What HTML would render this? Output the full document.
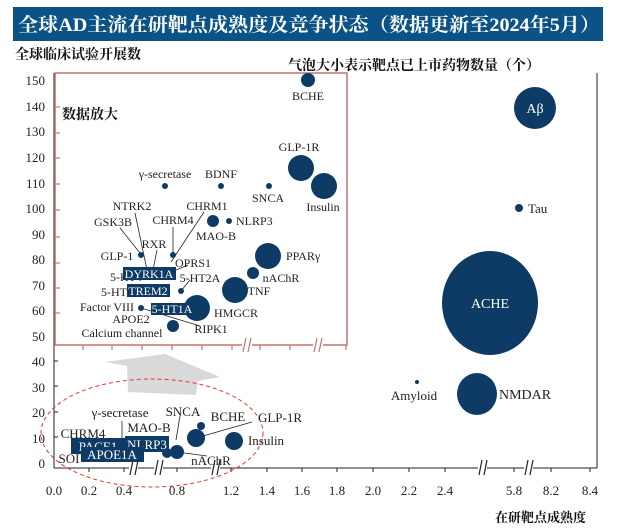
<!DOCTYPE html>
<html><head><meta charset="utf-8"><style>
body{margin:0;background:#fff;width:617px;height:530px;overflow:hidden}
svg{display:block}
text{font-family:"Liberation Serif","Noto Serif CJK SC",serif;fill:#222}
.c{font-family:"Liberation Serif","Noto Serif CJK SC",serif;font-weight:bold;fill:#111}
</style></head><body>
<svg width="617" height="530" viewBox="0 0 617 530" xmlns="http://www.w3.org/2000/svg">
<rect x="13" y="7" width="590" height="34" fill="#0b5387"/>
<text x="18" y="31" font-size="19" font-weight="bold" style="fill:#fff" textLength="582" lengthAdjust="spacingAndGlyphs">全球AD主流在研靶点成熟度及竞争状态（数据更新至2024年5月）</text>
<text class="c" x="15" y="59" font-size="14">全球临床试验开展数</text>
<text class="c" x="288" y="70" font-size="14">气泡大小表示靶点已上市药物数量（个）</text>
<text class="c" x="495" y="522" font-size="13">在研靶点成熟度</text>

<g stroke="#222" stroke-width="1" fill="none">
<line x1="54" y1="73" x2="54" y2="468"/>
<line x1="54" y1="468" x2="597" y2="468"/>
<line x1="597" y1="73" x2="597" y2="468"/>
</g>
<g font-size="13" text-anchor="end">
<text x="45" y="85">150</text><text x="45" y="111">140</text><text x="45" y="136">130</text><text x="45" y="162">120</text><text x="45" y="188">110</text><text x="45" y="213">100</text><text x="45" y="239">90</text><text x="45" y="264">80</text><text x="45" y="290">70</text><text x="45" y="315">60</text><text x="45" y="341">50</text><text x="45" y="366">40</text><text x="45" y="392">30</text><text x="45" y="417">20</text><text x="45" y="443">10</text><text x="45" y="468">0</text>
</g>
<g stroke="#222"><line x1="54" y1="80" x2="58" y2="80"/><line x1="54" y1="106" x2="58" y2="106"/><line x1="54" y1="131" x2="58" y2="131"/><line x1="54" y1="157" x2="58" y2="157"/><line x1="54" y1="182" x2="58" y2="182"/><line x1="54" y1="208" x2="58" y2="208"/><line x1="54" y1="233" x2="58" y2="233"/><line x1="54" y1="259" x2="58" y2="259"/><line x1="54" y1="284" x2="58" y2="284"/><line x1="54" y1="310" x2="58" y2="310"/><line x1="54" y1="335" x2="58" y2="335"/><line x1="54" y1="361" x2="58" y2="361"/><line x1="54" y1="386" x2="58" y2="386"/><line x1="54" y1="412" x2="58" y2="412"/><line x1="54" y1="437" x2="58" y2="437"/></g>
<g font-size="13" text-anchor="middle">
<text x="54" y="495">0.0</text><text x="89" y="495">0.2</text><text x="124" y="495">0.4</text><text x="177" y="495">0.8</text><text x="231" y="495">1.2</text><text x="267" y="495">1.4</text><text x="302" y="495">1.6</text><text x="337" y="495">1.8</text><text x="373" y="495">2.0</text><text x="409" y="495">2.2</text><text x="445" y="495">2.4</text><text x="514" y="495">5.8</text><text x="551" y="495">8.2</text><text x="590" y="495">8.4</text>
</g>
<g stroke="#222"><line x1="89" y1="468" x2="89" y2="472"/><line x1="124" y1="468" x2="124" y2="472"/><line x1="177" y1="468" x2="177" y2="472"/><line x1="231" y1="468" x2="231" y2="472"/><line x1="267" y1="468" x2="267" y2="472"/><line x1="302" y1="468" x2="302" y2="472"/><line x1="337" y1="468" x2="337" y2="472"/><line x1="373" y1="468" x2="373" y2="472"/><line x1="409" y1="468" x2="409" y2="472"/><line x1="445" y1="468" x2="445" y2="472"/><line x1="514" y1="468" x2="514" y2="472"/><line x1="551" y1="468" x2="551" y2="472"/><line x1="590" y1="468" x2="590" y2="472"/></g>
<g stroke="#222" stroke-width="1.2">
<rect x="129" y="460" width="9" height="15" fill="#fff" stroke="none"/><line x1="130" y1="475" x2="133" y2="460"/><line x1="135" y1="475" x2="138" y2="460"/>
<rect x="154" y="460" width="9" height="15" fill="#fff" stroke="none"/><line x1="155" y1="475" x2="158" y2="460"/><line x1="160" y1="475" x2="163" y2="460"/>
<rect x="211" y="460" width="9" height="15" fill="#fff" stroke="none"/><line x1="212" y1="475" x2="215" y2="460"/><line x1="217" y1="475" x2="220" y2="460"/>
<rect x="478" y="460" width="9" height="15" fill="#fff" stroke="none"/><line x1="479" y1="475" x2="482" y2="460"/><line x1="484" y1="475" x2="487" y2="460"/>
<rect x="524" y="460" width="9" height="15" fill="#fff" stroke="none"/><line x1="525" y1="475" x2="528" y2="460"/><line x1="530" y1="475" x2="533" y2="460"/>
</g>

<g fill="#0e3b66">
<circle cx="535" cy="108" r="21"/><circle cx="519" cy="208" r="4"/><ellipse cx="490" cy="303" rx="48" ry="52"/><circle cx="417" cy="382" r="2"/><ellipse cx="477" cy="394" rx="20" ry="21"/>
</g>
<text x="535" y="113" font-size="14" text-anchor="middle" style="fill:#fff">Aβ</text>
<text x="528" y="213" font-size="13">Tau</text>
<text x="490" y="308" font-size="14" text-anchor="middle" style="fill:#fff">ACHE</text>
<text x="414" y="400" font-size="13" text-anchor="middle">Amyloid</text>
<text x="499" y="399" font-size="14">NMDAR</text>

<rect x="55" y="73" width="292" height="272" fill="#fff" stroke="#c27474" stroke-width="1.5"/>
<g stroke="#c27474" stroke-width="1.2"><line x1="55" y1="107" x2="60" y2="107"/><line x1="55" y1="133" x2="60" y2="133"/><line x1="55" y1="158" x2="60" y2="158"/><line x1="55" y1="184" x2="60" y2="184"/><line x1="55" y1="210" x2="60" y2="210"/><line x1="55" y1="237" x2="60" y2="237"/><line x1="55" y1="263" x2="60" y2="263"/><line x1="55" y1="288" x2="60" y2="288"/><line x1="55" y1="313" x2="60" y2="313"/>
<line x1="83" y1="345" x2="83" y2="350"/><line x1="112" y1="345" x2="112" y2="350"/><line x1="142" y1="345" x2="142" y2="350"/><line x1="172" y1="345" x2="172" y2="350"/><line x1="202" y1="345" x2="202" y2="350"/><line x1="232" y1="345" x2="232" y2="350"/><line x1="260" y1="345" x2="260" y2="350"/><line x1="290" y1="345" x2="290" y2="350"/><line x1="320" y1="345" x2="320" y2="350"/><line x1="346" y1="345" x2="346" y2="350"/>
<rect x="242" y="338" width="10" height="14" fill="#fff" stroke="none"/><line x1="243" y1="352" x2="246" y2="338"/><line x1="248" y1="352" x2="251" y2="338"/>
<rect x="313" y="338" width="10" height="14" fill="#fff" stroke="none"/><line x1="314" y1="352" x2="317" y2="338"/><line x1="319" y1="352" x2="322" y2="338"/></g>
<text class="c" x="62" y="119" font-size="14">数据放大</text>

<g stroke="#222" stroke-width="0.8">
<line x1="135" y1="213" x2="147" y2="270"/><line x1="204" y1="212" x2="171" y2="262"/><line x1="120" y1="228" x2="140" y2="253"/><line x1="173" y1="227" x2="173" y2="253"/><line x1="157" y1="250" x2="153" y2="270"/><line x1="141" y1="308" x2="200" y2="326"/><line x1="190" y1="280" x2="181" y2="291"/><line x1="176" y1="270" x2="188" y2="265"/>
</g>
<g fill="#0e3b66">
<circle cx="308" cy="80" r="7"/><circle cx="301" cy="168" r="13"/><circle cx="324" cy="186" r="13"/><circle cx="165" cy="186" r="3"/><circle cx="221" cy="186" r="3"/><circle cx="269" cy="186" r="3"/><circle cx="213" cy="221" r="6"/><circle cx="229" cy="221" r="3"/><circle cx="141" cy="255" r="3"/><circle cx="173" cy="255" r="3"/><circle cx="181" cy="291" r="3"/><circle cx="141" cy="308" r="3"/><circle cx="197" cy="308" r="13"/><circle cx="173" cy="326" r="6"/><circle cx="268" cy="256" r="13"/><circle cx="253" cy="273" r="6"/><circle cx="235" cy="290" r="13"/>
</g>
<g font-size="12">
<text x="308" y="100" text-anchor="middle">BCHE</text>
<text x="299" y="151" text-anchor="middle">GLP-1R</text>
<text x="323" y="211" text-anchor="middle">Insulin</text>
<text x="165" y="178" text-anchor="middle">γ-secretase</text>
<text x="221" y="178" text-anchor="middle">BDNF</text>
<text x="268" y="202" text-anchor="middle">SNCA</text>
<text x="216" y="240" text-anchor="middle">MAO-B</text>
<text x="236" y="225">NLRP3</text>
<text x="207" y="210" text-anchor="middle">CHRM1</text>
<text x="132" y="210" text-anchor="middle">NTRK2</text>
<text x="113" y="226" text-anchor="middle">GSK3B</text>
<text x="173" y="224" text-anchor="middle">CHRM4</text>
<text x="154" y="248" text-anchor="middle">RXR</text>
<text x="117" y="260" text-anchor="middle">GLP-1</text>
<text x="193" y="267" text-anchor="middle">OPRS1</text>
<text x="126" y="281" text-anchor="middle">5-HT4</text>
<text x="200" y="282" text-anchor="middle">5-HT2A</text>
<text x="117" y="296" text-anchor="middle">5-HT6</text>
<text x="107" y="311" text-anchor="middle">Factor VIII</text>
<text x="236" y="317" text-anchor="middle">HMGCR</text>
<text x="131" y="323" text-anchor="middle">APOE2</text>
<text x="211" y="333" text-anchor="middle">RIPK1</text>
<text x="122" y="337" text-anchor="middle">Calcium channel</text>
<text x="286" y="260">PPARγ</text>
<text x="281" y="282" text-anchor="middle">nAChR</text>
<text x="259" y="295" text-anchor="middle">TNF</text>
</g>
<rect x="123" y="267" width="53" height="13" fill="#0e3b66"/><text x="149" y="278" font-size="12" text-anchor="middle" style="fill:#fff">DYRK1A</text>
<rect x="127" y="284" width="43" height="13" fill="#0e3b66"/><text x="148" y="295" font-size="12" text-anchor="middle" style="fill:#fff">TREM2</text>
<rect x="151" y="303" width="43" height="12" fill="#0e3b66"/><text x="172" y="313" font-size="12" text-anchor="middle" style="fill:#fff">5-HT1A</text>

<polygon points="105,362 165,354 220,377 198,381 196,395 128,392 127,366" fill="#d9d9d9"/>
<ellipse cx="152" cy="433" rx="111" ry="54" fill="none" stroke="#e33" stroke-width="1" stroke-dasharray="4,3"/>

<g stroke="#222" stroke-width="0.8"><line x1="203" y1="436" x2="252" y2="422"/><line x1="122" y1="421" x2="122" y2="438"/><line x1="180" y1="416" x2="176" y2="440"/><line x1="177" y1="452" x2="207" y2="456"/></g>
<g fill="#0e3b66"><circle cx="201" cy="426" r="4"/><circle cx="196" cy="438" r="9"/><circle cx="234" cy="441" r="9"/><circle cx="177" cy="452" r="7"/><circle cx="167" cy="453" r="5"/></g>
<g font-size="13">
<text x="183" y="416" text-anchor="middle">SNCA</text>
<text x="228" y="421" text-anchor="middle">BCHE</text>
<text x="280" y="422" text-anchor="middle">GLP-1R</text>
<text x="120" y="417" text-anchor="middle">γ-secretase</text>
<text x="149" y="432" text-anchor="middle">MAO-B</text>
<text x="83" y="438" text-anchor="middle">CHRM4</text>
<text x="266" y="445" text-anchor="middle">Insulin</text>
<text x="211" y="465" text-anchor="middle">nAChR</text>
<text x="69" y="463" text-anchor="middle">SOI</text>
</g>
<rect x="71" y="438" width="55" height="16" fill="#0e3b66"/><text x="98" y="451" font-size="13" text-anchor="middle" style="fill:#fff">PACE1</text>
<rect x="125" y="436" width="44" height="16" fill="#0e3b66"/><text x="147" y="449" font-size="13" text-anchor="middle" style="fill:#fff">NLRP3</text>
<rect x="81" y="447" width="63" height="15" fill="#0e3b66"/><text x="112" y="459" font-size="13" text-anchor="middle" style="fill:#fff">APOE1A</text>
</svg>
</body></html>
